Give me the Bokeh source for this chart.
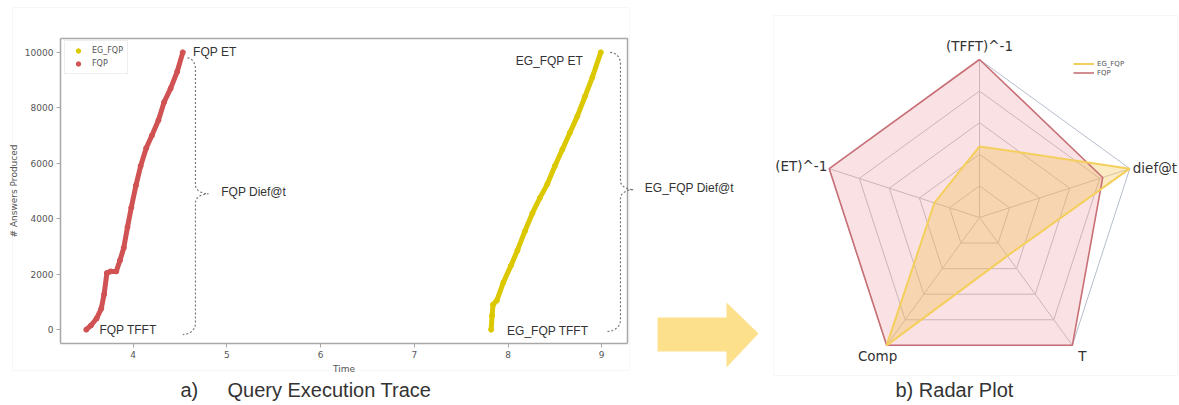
import numpy as np
from bokeh.plotting import figure
from bokeh.models import (ColumnDataSource, Range1d, FixedTicker, Label, BoxAnnotation,
                          PolyAnnotation, Legend, LegendItem, LinearAxis)
from bokeh.layouts import row
from bokeh.core.properties import value
from bokeh.embed import file_html
from bokeh.resources import INLINE

# ---------------- data ----------------
fqp_time = [3.50, 3.55, 3.61, 3.66, 3.69, 3.72, 3.76, 3.82, 3.86, 3.90, 3.94, 3.98,
            4.03, 4.08, 4.14, 4.20, 4.27, 4.33, 4.40, 4.47, 4.53]
fqp_answers = [0, 150, 400, 760, 1270, 2040, 2100, 2100, 2500, 2950, 3700, 4400,
               5200, 5900, 6550, 7000, 7550, 8200, 8700, 9300, 10000]
eg_time = [7.82, 7.83, 7.84, 7.88, 7.95, 8.03, 8.10, 8.18, 8.26, 8.34, 8.42, 8.50,
           8.58, 8.66, 8.74, 8.82, 8.90, 8.99]
eg_answers = [0, 500, 900, 1050, 1700, 2300, 2850, 3550, 4200, 4750, 5250, 5900,
              6500, 7100, 7700, 8400, 9100, 10000]
x_ticks = [4, 5, 6, 7, 8, 9]
y_ticks = [0, 2000, 4000, 6000, 8000, 10000]
x_limits = [3.225, 9.275]
y_limits = [-500, 10500]

radar_axes = ["(TFFT)^-1", "dief@t", "T", "Comp", "(ET)^-1"]
radar_fqp = [1.0, 0.82, 1.0, 1.0, 1.0]
radar_eg = [0.45, 1.0, 0.30, 1.0, 0.30]
radar_levels = [0.2, 0.4, 0.6, 0.8, 1.0]

FQP_COLOR = "#d05252"
EG_COLOR = "#dcc800"
TXT = "#333333"
H = 404
W1, W2 = 760, 419

# ---------------- left: query execution trace ----------------
# plot box position inside the canvas (pixels)
BOX_L, BOX_R, BOX_T, BOX_B = 60, 627, 38, 343
X0, X1 = x_limits
Y0, Y1 = y_limits
sx = (BOX_R - BOX_L) / (X1 - X0)
sy = (BOX_B - BOX_T) / (Y1 - Y0)

p = figure(width=W1, height=H,
           x_range=Range1d(X0 - BOX_L / sx, X1 + (W1 - BOX_R) / sx),
           y_range=Range1d(Y0 - (H - BOX_B) / sy, Y1 + BOX_T / sy),
           output_backend="svg", toolbar_location=None,
           x_axis_location=None, y_axis_location=None,
           min_border_left=0, min_border_right=0, min_border_top=0, min_border_bottom=0,
           background_fill_color="white", border_fill_color="white")
p.xgrid.visible = False
p.ygrid.visible = False
p.outline_line_color = None

xax = LinearAxis(fixed_location=Y0, bounds=(X0, X1), ticker=FixedTicker(ticks=x_ticks),
                 axis_label="Time")
yax = LinearAxis(fixed_location=X0, bounds=(Y0, Y1), ticker=FixedTicker(ticks=y_ticks),
                 axis_label="# Answers Produced")
for ax in [xax, yax]:
    ax.axis_line_color = "#a8a8a8"
    ax.axis_line_width = 1.5
    ax.major_tick_line_color = "#a8a8a8"
    ax.major_tick_in = 0
    ax.major_tick_out = 4
    ax.minor_tick_line_color = None
    ax.major_label_text_font = "DejaVu Sans"
    ax.major_label_text_font_size = "9px"
    ax.major_label_text_color = "#555555"
    ax.axis_label_text_font = "DejaVu Sans"
    ax.axis_label_text_font_size = "9px"
    ax.axis_label_text_font_style = "normal"
    ax.axis_label_text_color = "#555555"
    ax.major_label_standoff = 3
    ax.axis_label_standoff = 3
p.add_layout(xax, "below")
p.add_layout(yax, "left")
# top and right spines of the plot box
p.line([X0, X1, X1], [Y1, Y1, Y0], line_color="#a8a8a8", line_width=1.5)

src_fqp = ColumnDataSource(dict(t=fqp_time, n=fqp_answers))
src_eg = ColumnDataSource(dict(t=eg_time, n=eg_answers))
p.line("t", "n", source=src_fqp, line_width=5, color=FQP_COLOR, line_join="round")
r_fqp = p.scatter("t", "n", source=src_fqp, size=5, color=FQP_COLOR)
p.line("t", "n", source=src_eg, line_width=5, color=EG_COLOR, line_join="round")
r_eg = p.scatter("t", "n", source=src_eg, size=5, color=EG_COLOR)

leg = Legend(items=[LegendItem(label="EG_FQP", renderers=[r_eg]),
                    LegendItem(label="FQP", renderers=[r_fqp])],
             location=(64, H - 74), margin=0, padding=4, spacing=2,
             glyph_width=18, glyph_height=11, label_height=11, label_standoff=5,
             label_text_font="DejaVu Sans", label_text_font_size="8px",
             label_text_color="#555555", border_line_color="#dddddd",
             background_fill_alpha=0.9)
p.add_layout(leg)


def brace(xa_top, y_top, xa_bot, y_bot, xb, y_mid, w, hook=400, mid=300, k=8):
    t = np.linspace(0, np.pi / 2, k)
    xs, ys = [], []
    xs += list(xa_top + (xb - xa_top) * np.sin(t)); ys += list(y_top - hook * (1 - np.cos(t)))
    xs += list(xb + w * (1 - np.cos(t))); ys += list(y_mid + mid * (1 - np.sin(t)))
    xs += list(xb + w * (1 - np.cos(t[::-1]))); ys += list(y_mid - mid * (1 - np.sin(t[::-1])))
    xs += list(xb - (xb - xa_bot) * (1 - np.cos(t))); ys += list(y_bot + hook * (1 - np.sin(t)))
    return xs, ys


bx, by = brace(fqp_time[-1] + 0.05, fqp_answers[-1] - 200, fqp_time[-1], fqp_answers[0] - 180,
               fqp_time[-1] + 0.135, 4900, 0.14)
p.line(bx, by, line_dash="2 2", line_color="#777777", line_width=1.2)
bx, by = brace(eg_time[-1] + 0.10, eg_answers[-1], eg_time[-1] + 0.06, eg_answers[0] - 70,
               eg_time[-1] + 0.21, 5050, 0.14)
p.line(bx, by, line_dash="2 2", line_color="#777777", line_width=1.2)

ann = [
    ("FQP ET", fqp_time[-1] + 0.11, fqp_answers[-1], "left"),
    ("FQP TFFT", fqp_time[0] + 0.14, fqp_answers[0], "left"),
    ("FQP Dief@t", 4.94, 4950, "left"),
    ("EG_FQP ET", eg_time[-1] - 0.19, eg_answers[-1] - 300, "right"),
    ("EG_FQP TFFT", eg_time[0] + 0.17, eg_answers[0] - 50, "left"),
    ("EG_FQP Dief@t", 9.46, 5100, "left"),
]
for txt, xx, yy, al in ann:
    p.add_layout(Label(x=xx, y=yy, text=txt, text_align=al, text_baseline="middle",
                       text_font="Liberation Sans", text_font_size="12px", text_color=TXT))

# panel frame, caption and arrow (canvas units)
p.add_layout(BoxAnnotation(left=12, right=629, top=7, bottom=370, left_units="canvas",
                           right_units="canvas", top_units="canvas", bottom_units="canvas",
                           fill_alpha=0, line_color="#e6e6e6", line_width=1, level="underlay"))
p.add_layout(Label(x=180, y=389, x_units="canvas", y_units="canvas", text="a)",
                   text_baseline="middle", text_font="Liberation Sans",
                   text_font_size="20px", text_color=TXT))
p.add_layout(Label(x=227, y=389, x_units="canvas", y_units="canvas", text="Query Execution Trace",
                   text_baseline="middle", text_font="Liberation Sans",
                   text_font_size="20px", text_color=TXT))
p.add_layout(PolyAnnotation(xs=[657, 726, 726, 758, 726, 726, 657],
                            ys=[317, 317, 302, 333, 367, 351, 351],
                            xs_units="canvas", ys_units="canvas",
                            fill_color="#fde08c", fill_alpha=1, line_color=None))

# ---------------- right: radar plot ----------------
R = 158.0
CX, CY = 219, 217
q = figure(width=W2, height=H, x_range=Range1d(-CX / R, (W2 - CX) / R),
           y_range=Range1d(-(H - CY) / R, CY / R),
           output_backend="svg", toolbar_location=None,
           x_axis_location=None, y_axis_location=None,
           min_border_left=0, min_border_right=0, min_border_top=0, min_border_bottom=0,
           background_fill_color="white", border_fill_color="white")
q.grid.visible = False
q.outline_line_color = None

ang = np.deg2rad(90 - 72 * np.arange(len(radar_axes)))
cx, cy = np.cos(ang), np.sin(ang)

ring_xs = [list(lv * np.append(cx, cx[0])) for lv in radar_levels[:-1]]
ring_ys = [list(lv * np.append(cy, cy[0])) for lv in radar_levels[:-1]]
q.multi_line(ring_xs, ring_ys, line_color="#c8c8c8", line_width=1)
q.line(list(np.append(cx, cx[0]) * radar_levels[-1]), list(np.append(cy, cy[0]) * radar_levels[-1]),
       line_color="#b6bdcc", line_width=1)
q.segment(x0=[0] * len(cx), y0=[0] * len(cy), x1=list(cx), y1=list(cy),
          line_color="#c8c8c8", line_width=1)

fx, fy = np.array(radar_fqp) * cx, np.array(radar_fqp) * cy
ex, ey = np.array(radar_eg) * cx, np.array(radar_eg) * cy
q.patch(list(fx), list(fy), fill_color="#e06a7a", fill_alpha=0.2, line_color=None)
q.patch(list(ex), list(ey), fill_color="#f3bf45", fill_alpha=0.32, line_color=None)
r_lf = q.line(list(np.append(fx, fx[0])), list(np.append(fy, fy[0])),
              line_color="#c87076", line_width=1.6)
r_le = q.line(list(np.append(ex, ex[0])), list(np.append(ey, ey[0])),
              line_color="#f4cf5c", line_width=2)

offs = [(0, 14, "center"), (3, 1, "left"), (10, -11, "center"), (-9, -11, "center"), (-2, 3, "right")]
for i, name in enumerate(radar_axes):
    dx, dy, al = offs[i]
    q.text(x=[cx[i] + dx / R], y=[cy[i] + dy / R], text=[name], text_align=al,
           text_baseline="middle", text_font=value("DejaVu Sans"), text_font_size="13.5px",
           text_color=TXT)

rleg = Legend(items=[LegendItem(label="EG_FQP", renderers=[r_le]),
                     LegendItem(label="FQP", renderers=[r_lf])],
              location=(313, H - 77), padding=2, spacing=0, margin=0,
              glyph_width=21, glyph_height=9, label_height=9, label_standoff=3,
              label_text_font="DejaVu Sans", label_text_font_size="7px",
              label_text_color="#555555", border_line_color=None, background_fill_alpha=0)
q.add_layout(rleg)

q.add_layout(BoxAnnotation(left=13, right=417, top=15, bottom=375, left_units="canvas",
                           right_units="canvas", top_units="canvas", bottom_units="canvas",
                           fill_alpha=0, line_color="#e6e6e6", line_width=1, level="underlay"))
q.add_layout(Label(x=135, y=389, x_units="canvas", y_units="canvas", text="b) Radar Plot",
                   text_baseline="middle", text_font="Liberation Sans",
                   text_font_size="20px", text_color=TXT))

layout = row(p, q)
open("out.html", "w").write(file_html(layout, INLINE))
